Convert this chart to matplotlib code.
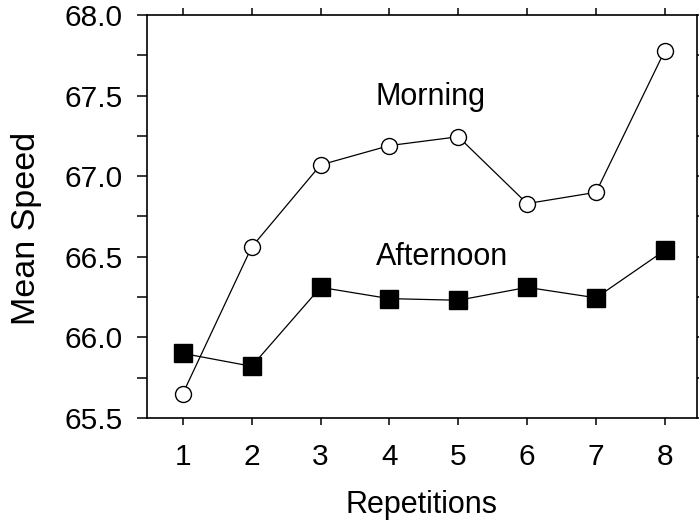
import matplotlib
matplotlib.use("Agg")
from matplotlib import pyplot as plt
from matplotlib.ticker import MultipleLocator

plt.rcParams['font.family'] = ['Liberation Sans', 'DejaVu Sans']

# values
reps = [1, 2, 3, 4, 5, 6, 7, 8]
morning = [65.65, 66.56, 67.07, 67.19, 67.245, 66.83, 66.90, 67.78]
afternoon = [65.90, 65.82, 66.31, 66.24, 66.23, 66.31, 66.245, 66.54]

fig = plt.figure(figsize=(6.99, 5.21), dpi=100)
ax = fig.add_axes([0.210, 0.198, 0.787, 0.773])

ax.plot(reps, morning, '-', color='black', lw=0.9,
        marker='o', ms=11.5, mfc='white', mec='black', mew=1.0, zorder=3)
ax.plot(reps, afternoon, '-', color='black', lw=0.9,
        marker='s', ms=12.5, mfc='black', mec='black', zorder=3)

ax.text(3.8, 67.49, 'Morning', fontsize=22, va='center', ha='left')
ax.text(3.8, 66.5, 'Afternoon', fontsize=22, va='center', ha='left')

ax.set_xlim(0.477, 8.465)
ax.set_ylim(65.5, 68.0)
ax.set_xticks(reps)
ax.yaxis.set_major_locator(MultipleLocator(0.5))
ax.yaxis.set_minor_locator(MultipleLocator(0.25))
ax.yaxis.set_major_formatter(matplotlib.ticker.FormatStrFormatter('%.1f'))

for s in ax.spines.values():
    s.set_linewidth(1.2)

ax.tick_params(axis='y', which='both', direction='out', length=7.5, width=1.1,
               labelsize=21.5, pad=10, right=True)
ax.tick_params(axis='x', direction='out', length=5, width=1.1,
               labelsize=21.5, pad=13, top=True)

ax.set_xlabel('Repetitions', fontsize=22, labelpad=14)
ax.set_ylabel('Mean Speed', fontsize=24.5)
ax.yaxis.set_label_coords(-0.19, 0.471)

fig.savefig('out.png', dpi=100)
